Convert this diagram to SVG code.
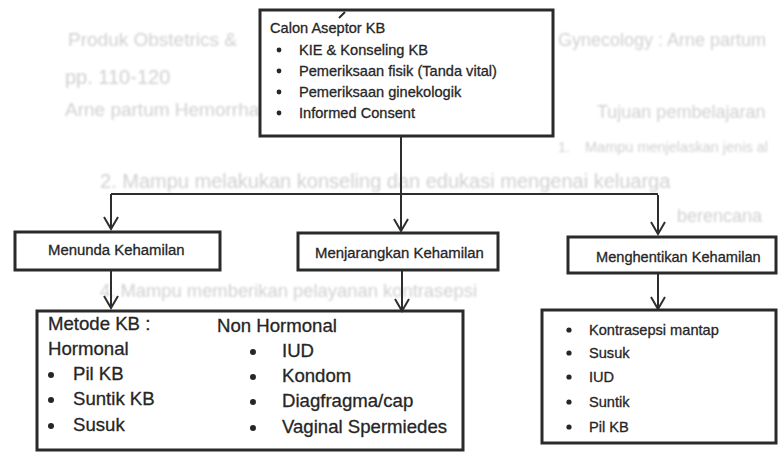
<svg xmlns="http://www.w3.org/2000/svg" width="781" height="452" viewBox="0 0 781 452">
  <defs>
    <style>
      .ghost { font-family: "Liberation Sans", Arial, sans-serif; font-size: 19px; fill: #d0d0d0; }
      .box { stroke: #2a2a2a; stroke-width: 3; }
      .fill { fill: #ffffff; }
      .open { fill: none; }
      .t { font-family: "Liberation Sans", Arial, sans-serif; fill: #262626; stroke: #262626; stroke-width: 0.3; }
      .s14 { font-size: 14.6px; }
      .s15 { font-size: 14.9px; }
      .s18 { font-size: 18.6px; }
      .dot { fill: #262626; }
      .line { fill: none; stroke: #2e2e2e; stroke-width: 2; }
      .link { fill: none; stroke: #2e2e2e; stroke-width: 2; marker-end: url(#vhead); }
    </style>
    <marker id="vhead" markerUnits="userSpaceOnUse" markerWidth="16" markerHeight="16" viewBox="0 0 16 16" refX="14" refY="8" orient="auto">
      <path d="M2,1 L14,8 L2,15" fill="none" stroke="#2e2e2e" stroke-width="2"/>
    </marker>
    <filter id="soft" x="-5%" y="-20%" width="110%" height="140%">
      <feGaussianBlur stdDeviation="0.8"/>
    </filter>
  </defs>

  <rect width="781" height="452" fill="#ffffff"/>

  <!-- faint page text behind the chart -->
  <g id="page-text" filter="url(#soft)">
    <text class="ghost" x="68" y="46">Produk Obstetrics &amp;</text>
    <text class="ghost" x="558" y="46" style="font-size:18px">Gynecology : Arne partum</text>
    <text class="ghost" x="65" y="84" style="font-size:20px">pp. 110-120</text>
    <text class="ghost" x="65" y="116">Arne partum Hemorrhage</text>
    <text class="ghost" x="597" y="118" style="font-size:18px">Tujuan pembelajaran</text>
    <text class="ghost" x="558" y="152" style="font-size:14.5px">1.</text>
    <text class="ghost" x="585" y="152" style="font-size:14.5px">Mampu menjelaskan jenis al</text>
    <text class="ghost" x="100" y="188" style="font-size:20px">2.   Mampu melakukan konseling dan edukasi mengenai keluarga</text>
    <text class="ghost" x="677" y="222" style="font-size:18px">berencana</text>
    <text class="ghost" x="100" y="297" style="font-size:18px" textLength="377" lengthAdjust="spacingAndGlyphs">4.   Mampu memberikan pelayanan kontrasepsi</text>
  </g>

  <!-- connectors -->
  <g id="connectors">
    <path class="line" d="M111,194 H658"/>
    <path class="link" d="M401,136 V231"/>
    <path class="link" d="M111,194 V229"/>
    <path class="link" d="M658,195 V234"/>
    <path class="link" d="M111,271 V308"/>
    <path class="link" d="M402,270 V311"/>
    <path class="link" d="M658,274 V309"/>
  </g>

  <!-- top node -->
  <g id="calon-aseptor">
    <rect class="box fill" x="260" y="10" width="293" height="126"/>
    <path d="M339,18 L345,12" stroke="#2a2a2a" stroke-width="2"/>
    <text class="t s14" x="270" y="33">Calon Aseptor KB</text>
    <circle class="dot" cx="279" cy="50" r="2.4"/>
    <text class="t s14" x="299" y="55">KIE &amp; Konseling KB</text>
    <circle class="dot" cx="279" cy="71" r="2.4"/>
    <text class="t s14" x="299" y="76">Pemeriksaan fisik (Tanda vital)</text>
    <circle class="dot" cx="279" cy="92" r="2.4"/>
    <text class="t s14" x="299" y="97">Pemeriksaan ginekologik</text>
    <circle class="dot" cx="279" cy="113" r="2.4"/>
    <text class="t s14" x="299" y="118">Informed Consent</text>
  </g>

  <!-- second row -->
  <g id="menunda">
    <rect class="box fill" x="15" y="232" width="205" height="38"/>
    <text class="t s15" x="48" y="255">Menunda Kehamilan</text>
  </g>
  <g id="menjarangkan">
    <rect class="box fill" x="298" y="233" width="200" height="37"/>
    <text class="t s15" x="315" y="258">Menjarangkan Kehamilan</text>
  </g>
  <g id="menghentikan">
    <rect class="box fill" x="568" y="237" width="208" height="36"/>
    <text class="t s14" x="596" y="262">Menghentikan Kehamilan</text>
  </g>

  <!-- methods for delaying / spacing -->
  <g id="metode-kb">
    <rect class="box open" x="37" y="311" width="426" height="139"/>
    <text class="t s18" x="48" y="330">Metode KB :</text>
    <text class="t s18" x="48" y="355">Hormonal</text>
    <circle class="dot" cx="51" cy="375" r="3"/>
    <text class="t s18" x="73" y="380">Pil KB</text>
    <circle class="dot" cx="51" cy="400" r="3"/>
    <text class="t s18" x="73" y="405">Suntik KB</text>
    <circle class="dot" cx="51" cy="426" r="3"/>
    <text class="t s18" x="73" y="431">Susuk</text>
    <text class="t s18" x="217" y="332">Non Hormonal</text>
    <circle class="dot" cx="253" cy="352" r="3"/>
    <text class="t s18" x="282" y="357">IUD</text>
    <circle class="dot" cx="253" cy="377" r="3"/>
    <text class="t s18" x="282" y="382">Kondom</text>
    <circle class="dot" cx="253" cy="402" r="3"/>
    <text class="t s18" x="282" y="407">Diagfragma/cap</text>
    <circle class="dot" cx="253" cy="428" r="3"/>
    <text class="t s18" x="282" y="433">Vaginal Spermiedes</text>
  </g>

  <!-- methods for stopping -->
  <g id="metode-henti">
    <rect class="box open" x="542" y="310" width="234" height="133"/>
    <circle class="dot" cx="569" cy="330" r="2.6"/>
    <text class="t s14" x="589" y="335">Kontrasepsi mantap</text>
    <circle class="dot" cx="569" cy="353" r="2.6"/>
    <text class="t s14" x="589" y="358">Susuk</text>
    <circle class="dot" cx="569" cy="377" r="2.6"/>
    <text class="t s14" x="589" y="382">IUD</text>
    <circle class="dot" cx="569" cy="402" r="2.6"/>
    <text class="t s14" x="589" y="407">Suntik</text>
    <circle class="dot" cx="569" cy="427" r="2.6"/>
    <text class="t s14" x="589" y="432">Pil KB</text>
  </g>
</svg>
